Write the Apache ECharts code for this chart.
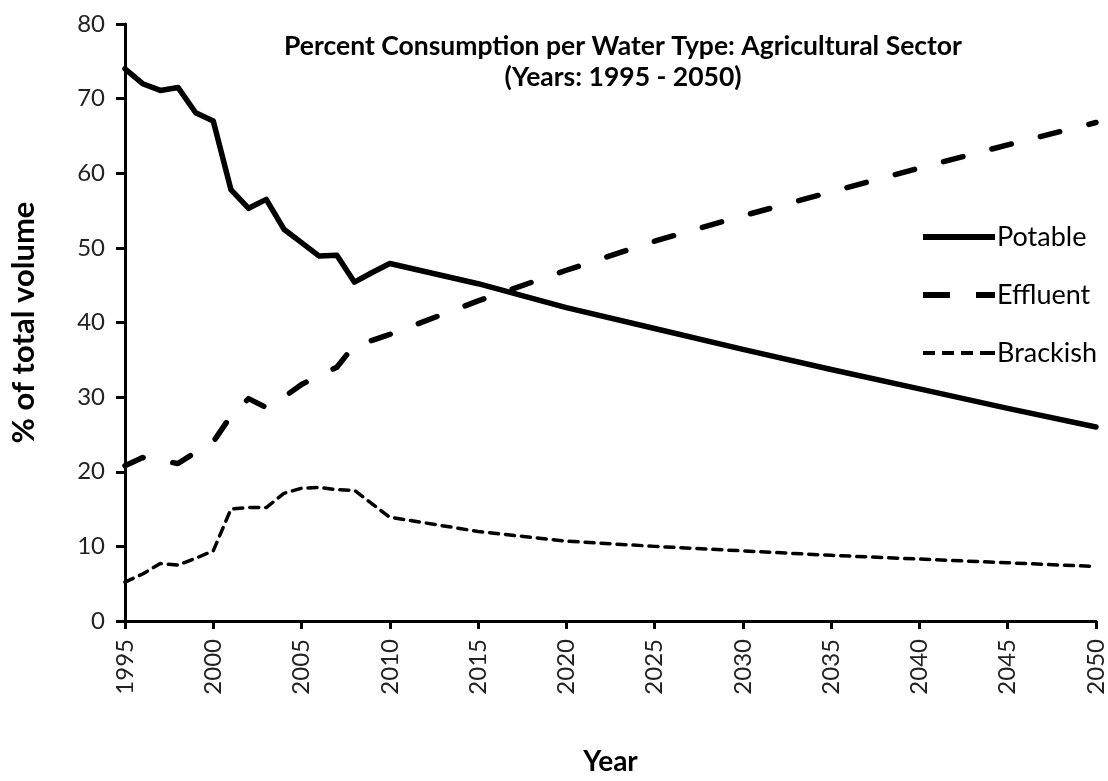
<!DOCTYPE html>
<html>
<head>
<meta charset="utf-8">
<script src="https://cdn.jsdelivr.net/npm/echarts@6/dist/echarts.min.js"></script>
<style>
html,body{margin:0;padding:0;background:#fff;}
#chart{width:1108px;height:781px;}
</style>
</head>
<body>
<div id="chart"></div>
<script>
var years = [1995,1996,1997,1998,1999,2000,2001,2002,2003,2004,2005,2006,2007,2008,2009,2010,2015,2020,2025,2030,2035,2040,2045,2050];
var potable = [74.0,72.0,71.1,71.5,68.1,67.0,57.8,55.3,56.5,52.5,50.7,48.9,49.0,45.4,46.7,47.9,45.2,42.0,39.2,36.4,33.7,31.1,28.5,26.0];
var effluent = [20.8,21.9,21.5,21.1,22.6,24.0,27.5,29.8,28.6,30.0,31.7,32.9,34.0,37.0,37.6,38.4,42.9,47.0,50.9,54.3,57.5,60.7,63.8,66.8];
var brackish = [5.2,6.3,7.7,7.5,8.4,9.4,15.0,15.2,15.2,17.1,17.8,17.9,17.6,17.5,15.7,13.9,12.0,10.7,10.0,9.4,8.8,8.3,7.8,7.3];
var seriesNames = ['Potable','Effluent','Brackish'];
var titleLines = ['Percent Consumption per Water Type: Agricultural Sector','(Years: 1995 - 2050)'];

function pairs(vals){ return years.map(function(y,i){ return [y, vals[i]]; }); }

// legend sample shapes (solid, long dash, short dash)
var legendIcons = [
  'path://M0,0H72V6H0Z',
  'path://M0,0H27V6H0Z M53,0H72V6H53Z',
  'path://M0,1H12V5H0Z M19,1H31V5H19Z M38,1H50V5H38Z M57,1H72V5H57Z'
];

var FONT = 'Lato';
var chart = echarts.init(document.getElementById('chart'), null, {renderer:'canvas'});
chart.setOption({
  backgroundColor:'#fff',
  animation:false,
  textStyle:{fontFamily:FONT},
  title:{
    text: titleLines.join('\n'),
    left: 618, top: 26, textAlign:'center',
    textStyle:{fontFamily:FONT, fontSize:26.5, fontWeight:'bold', color:'#000', lineHeight:31}
  },
  legend:{
    orient:'vertical', left:918, top:218, itemGap:30,
    itemWidth:72, itemHeight:6, symbolKeepAspect:true,
    textStyle:{fontFamily:FONT, fontSize:27, color:'#000', lineHeight:28, padding:[0,0,0,-3]},
    data: seriesNames.map(function(n,i){ return {name:n, icon:legendIcons[i], itemStyle:{color:'#000', borderWidth:0}}; })
  },
  grid:{left:124, right:11, top:24, bottom:150, containLabel:false},
  xAxis:{
    type:'value', min:1995, max:2050, interval:5,
    name:'Year', nameLocation:'middle', nameGap:127,
    nameTextStyle:{fontFamily:FONT, fontSize:28, fontWeight:'bold', color:'#000'},
    axisLine:{show:true, onZero:false, lineStyle:{color:'#000', width:3}},
    axisTick:{show:true, length:8, lineStyle:{color:'#000', width:3}},
    axisLabel:{rotate:90, fontFamily:FONT, fontSize:24, color:'#222', margin:18, formatter:function(v){return String(v);}},
    splitLine:{show:false}
  },
  yAxis:{
    type:'value', min:0, max:80, interval:10,
    name:'% of total volume', nameLocation:'middle', nameGap:86, nameRotate:90,
    nameTextStyle:{fontFamily:FONT, fontSize:31, fontWeight:'bold', color:'#000'},
    axisLine:{show:true, lineStyle:{color:'#000', width:3}},
    axisTick:{show:true, length:9, lineStyle:{color:'#000', width:3}},
    axisLabel:{fontFamily:FONT, fontSize:24, color:'#222', margin:20},
    splitLine:{show:false}
  },
  series:[
    {name:seriesNames[0], type:'line', data:pairs(potable), symbol:'none', showSymbol:false,
     lineStyle:{color:'#000', width:5.5, cap:'round', join:'round'}, itemStyle:{color:'#000'}},
    {name:seriesNames[1], type:'line', data:pairs(effluent), symbol:'none', showSymbol:false,
     lineStyle:{color:'#000', width:5.5, type:[20,30], cap:'round', join:'round'}, itemStyle:{color:'#000'}},
    {name:seriesNames[2], type:'line', data:pairs(brackish), symbol:'none', showSymbol:false,
     lineStyle:{color:'#000', width:3.5, type:[9,7], cap:'round', join:'round'}, itemStyle:{color:'#000'}}
  ]
});
</script>
</body>
</html>
